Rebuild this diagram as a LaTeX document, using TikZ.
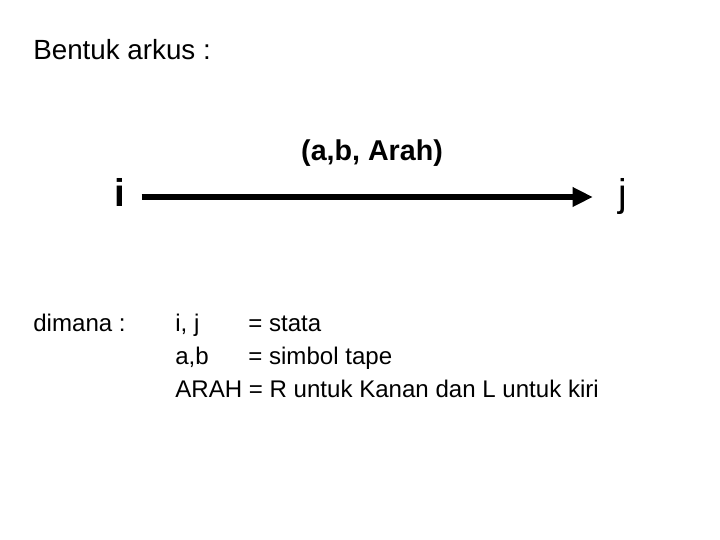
\documentclass[tikz,border=0pt]{standalone}
\usepackage{fontspec}
\setmainfont{Liberation Sans}
\usetikzlibrary{positioning}
\usetikzlibrary{arrows.meta}
\tikzset{state node/.style={inner sep=0pt,font=\fontsize{22}{26}\selectfont,text height=15pt,text depth=4pt},
text node/.style={inner sep=0pt,anchor=base west,font=\fontsize{13.7}{16}\selectfont},}

\begin{document}
\begin{tikzpicture}[x=0.02cm, y=-0.02cm, >={Triangle[length=11.5pt,width=10.5pt]}]
	\useasboundingbox (0,0) rectangle (720,540);
	\node[text node, font=\fontsize{15.8}{18}\selectfont] (judul) at (33,60) {Bentuk arkus :};

	\node[state node, font=\bfseries\fontsize{22}{26}\selectfont] (i) at (120,197) {i};
	\node[state node] (j) at (623,197) {j};

	\path[draw,->,line width=3.3pt,shorten <=9pt,shorten >=14.5pt]
	(i) edge node[above=16pt,inner sep=0pt,font=\bfseries\fontsize{16.3}{19}\selectfont] {(a,b, Arah)} (j);

	\node[text node] (dimana) at (33,332) {dimana :};
	\node[text node] (ij) at (175,332) {i, j};
	\node[text node] (ijket) at (248,332) {= stata};
	\node[text node] (ab) at (175,365) {a,b};
	\node[text node] (abket) at (248,365) {= simbol tape};
	\node[text node] (arah) at (175,398) {ARAH = R untuk Kanan dan L untuk kiri};
\end{tikzpicture}
\end{document}
